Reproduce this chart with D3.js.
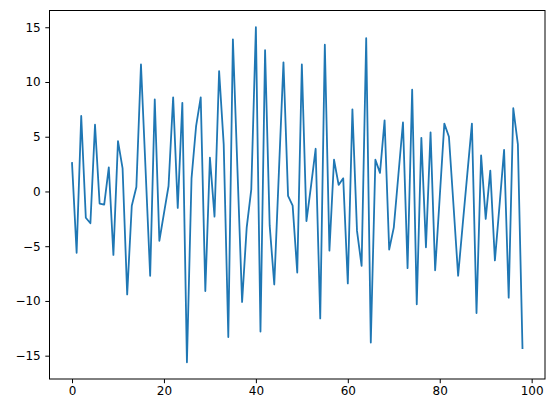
<!DOCTYPE html>
<html>
<head>
<meta charset="utf-8">
<script src="https://cdn.jsdelivr.net/npm/d3@7"></script>
<style>
  html, body { margin: 0; padding: 0; background: #fff; }
  svg { display: block; }
</style>
</head>
<body>
<svg id="chart" width="555" height="413"></svg>
<script>
const values = [
  2.6, -5.6, 6.9, -2.4, -2.9, 6.1, -1.1, -1.2, 2.2, -5.8,
  4.6, 2.1, -9.4, -1.3, 0.4, 11.6, 2.0, -7.7, 8.4, -4.5,
  -2.0, 0.5, 8.6, -1.5, 8.1, -15.6, 1.2, 6.0, 8.6, -9.1,
  3.1, -2.3, 11.0, 4.3, -13.3, 13.9, 1.9, -10.1, -3.3, 0.2,
  15.0, -12.8, 12.9, -3.1, -8.5, 1.7, 11.8, -0.4, -1.3, -7.4,
  11.6, -2.7, 0.5, 3.9, -11.6, 13.4, -5.4, 2.9, 0.6, 1.2,
  -8.4, 7.5, -3.6, -6.8, 14.0, -13.8, 2.9, 1.7, 6.5, -5.3,
  -3.3, 1.5, 6.3, -7.0, 9.3, -10.3, 4.9, -5.1, 5.4, -7.2,
  -0.5, 6.2, 5.0, -1.3, -7.7, -3.0, 1.6, 6.2, -11.1, 3.3,
  -2.5, 1.9, -6.3, -1.3, 3.8, -9.7, 7.6, 4.3, -14.3
];
const xIndex = values.map((v, i) => i);
const xTicks = [0, 20, 40, 60, 80, 100];
const yTicks = [-15, -10, -5, 0, 5, 10, 15];

const plotLeft = 49.5, plotRight = 545, plotTop = 10.5, plotBottom = 379;
const svg = d3.select("#chart");

const xMin = d3.min(xIndex), xMax = d3.max(xIndex);
const xPad = (xMax - xMin) * 0.05;
const yMin = d3.min(values), yMax = d3.max(values);
const yPad = (yMax - yMin) * 0.05;

const x = d3.scaleLinear().domain([xMin - xPad, xMax + xPad]).range([plotLeft, plotRight]);
const y = d3.scaleLinear().domain([yMin - yPad, yMax + yPad]).range([plotBottom, plotTop]);

const line = d3.line().x((d, i) => x(xIndex[i])).y(d => y(d));

svg.append("path")
  .datum(values)
  .attr("fill", "none")
  .attr("stroke", "#1f77b4")
  .attr("stroke-width", 1.8)
  .attr("stroke-linejoin", "round")
  .attr("stroke-linecap", "square")
  .attr("d", line);

const fmt = d3.format("d");
const font = "DejaVu Sans, sans-serif";

const xAxis = svg.append("g")
  .attr("transform", `translate(0,${plotBottom})`)
  .call(d3.axisBottom(x).tickValues(xTicks).tickFormat(fmt).tickSize(4.2).tickSizeOuter(0).tickPadding(3.6));
const yAxis = svg.append("g")
  .attr("transform", `translate(${plotLeft},0)`)
  .call(d3.axisLeft(y).tickValues(yTicks).tickFormat(fmt).tickSize(4.2).tickSizeOuter(0).tickPadding(4.6));

[xAxis, yAxis].forEach(g => {
  g.select(".domain").remove();
  g.selectAll(".tick line").attr("stroke", "#000").attr("stroke-width", 1);
  g.selectAll(".tick text")
    .attr("fill", "#000")
    .style("font-family", font)
    .style("font-size", "12px");
});

svg.append("rect")
  .attr("x", plotLeft).attr("y", plotTop)
  .attr("width", plotRight - plotLeft).attr("height", plotBottom - plotTop)
  .attr("fill", "none").attr("stroke", "#000").attr("stroke-width", 1);
</script>
</body>
</html>
